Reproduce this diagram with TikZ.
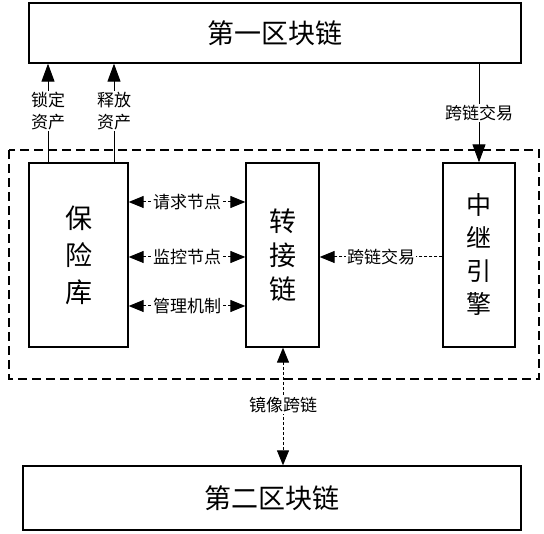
\documentclass[tikz,border=0pt]{standalone}
\usepackage{fontspec}
\newfontfamily\cjk{Noto Sans CJK SC}
\usetikzlibrary{arrows.meta,calc}
\begin{document}
\begin{tikzpicture}[x=1pt,y=-1pt,
  box/.style={draw=black,line width=1.3pt,rectangle,inner sep=0pt},
  bigtxt/.style={font=\cjk\fontsize{27}{27}\selectfont},
  lbl/.style={fill=white,inner sep=1pt,font=\cjk\fontsize{17}{22}\selectfont,align=center},
  arr/.style={line width=1pt,-{Triangle[length=18pt,width=13pt]}},
  darr/.style={line width=1pt,dash pattern=on 3pt off 2pt,{Triangle[length=15pt,width=12pt]}-{Triangle[length=15pt,width=12pt]}},
  sarr/.style={line width=1pt,dash pattern=on 3pt off 2pt,-{Triangle[length=15pt,width=12pt]}}
]
\useasboundingbox (0,0) rectangle (544,534);
\fill[white] (0,0) rectangle (544,534);
% dashed container
\draw[line width=1.5pt,dash pattern=on 9pt off 5pt] (9,150) rectangle (539,379);
% boxes
\node[box,bigtxt,minimum width=492pt,minimum height=60pt] (top) at (275,33) {第一区块链};
\node[box,bigtxt,minimum width=498pt,minimum height=64pt] (bottom) at (272,498) {第二区块链};
\node[box,minimum width=99pt,minimum height=184pt,align=center,font=\cjk\fontsize{27}{37}\selectfont] (vault) at (78.5,255) {保\\险\\库};
\node[box,minimum width=73pt,minimum height=184pt,align=center,font=\cjk\fontsize{27}{34}\selectfont] (adapter) at (282.5,255) {转\\接\\链};
\node[box,minimum width=72pt,minimum height=184pt,align=center,font=\cjk\fontsize{25}{33}\selectfont] (relay) at (479,255) {中\\继\\引\\擎};
% label anchors (coordinates for connectors)
\coordinate (lockc) at (48,111);
\coordinate (relc) at (114,111);
\coordinate (t1c) at (479,113);
\coordinate (l1c) at (187,202);
\coordinate (l2c) at (187,257);
\coordinate (l3c) at (187,306);
\coordinate (t2c) at (381,257);
\coordinate (mc) at (283,405);
% connectors
\draw[arr] (lockc |- vault.north) -- (lockc |- top.south);
\draw[arr] (relc |- vault.north) -- (relc |- top.south);
\draw[arr] (t1c |- top.south) -- (t1c |- relay.north);
\draw[darr] (vault.east |- l1c) -- (adapter.west |- l1c);
\draw[darr] (vault.east |- l2c) -- (adapter.west |- l2c);
\draw[darr] (vault.east |- l3c) -- (adapter.west |- l3c);
\draw[sarr] (relay.west |- t2c) -- (adapter.east |- t2c);
\draw[darr] (mc |- adapter.south) -- (mc |- bottom.north);
% labels
\node[lbl] (lock) at (lockc) {锁定\\资产};
\node[lbl] (rel) at (relc) {释放\\资产};
\node[lbl] (t1) at (t1c) {跨链交易};
\node[lbl] (l1) at (l1c) {请求节点};
\node[lbl] (l2) at (l2c) {监控节点};
\node[lbl] (l3) at (l3c) {管理机制};
\node[lbl] (t2) at (t2c) {跨链交易};
\node[lbl] (m) at (mc) {镜像跨链};
\end{tikzpicture}
\end{document}
